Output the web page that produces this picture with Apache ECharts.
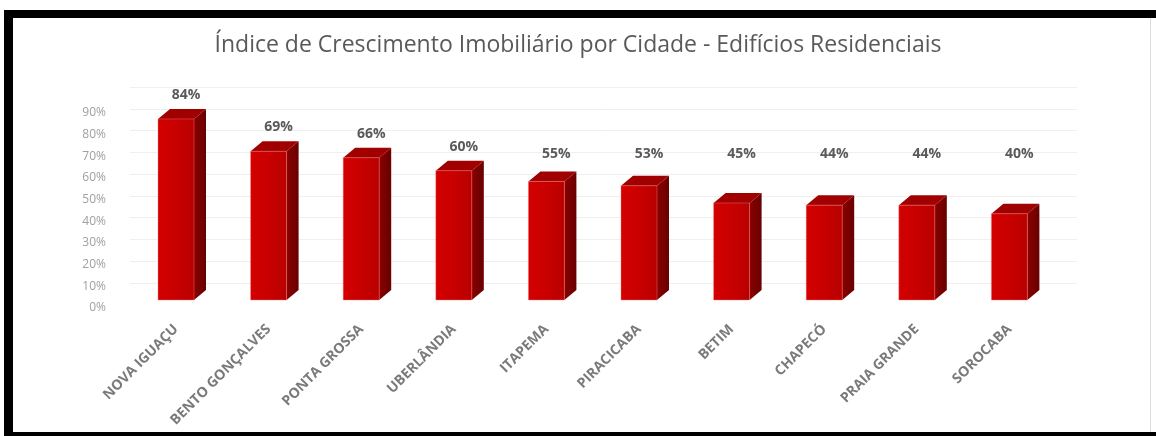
<!DOCTYPE html>
<html><head><meta charset="utf-8">
<script src="https://cdn.jsdelivr.net/npm/echarts@6/dist/echarts.min.js"></script>
<style>html,body{margin:0;padding:0;background:#fff}#c{width:1156px;height:436px}</style>
</head><body><div id="c"></div>
<script>
const titleText = 'Índice de Crescimento Imobiliário por Cidade - Edifícios Residenciais';
const categories = ['NOVA IGUAÇU','BENTO GONÇALVES','PONTA GROSSA','UBERLÂNDIA','ITAPEMA','PIRACICABA','BETIM','CHAPECÓ','PRAIA GRANDE','SOROCABA'];
const values = [84, 69, 66, 60, 55, 53, 45, 44, 44, 40];
const yTicks = [0, 10, 20, 30, 40, 50, 60, 70, 80, 90];

const chart = echarts.init(document.getElementById('c'), null, {renderer: 'canvas'});
const FONT = 'Open Sans';
const HALF = 18, DX = 12, DY = 10;

function renderBar(params, api) {
  const i = api.value(0), v = api.value(1);
  const top = api.coord([i, v]);
  const base = api.coord([i, 0]);
  const cx = top[0], ty = top[1], by = base[1];
  const xl = cx - HALF, xr = cx + HALF;
  const labelY = Math.min(ty - 24, 154);
  return {
    type: 'group',
    children: [
      { type: 'polygon', shape: { points: [[xr, ty], [xr + DX, ty - DY], [xr + DX, by - DY], [xr, by]] },
        style: { fill: { type: 'linear', x: 0, y: 0, x2: 1, y2: 0, colorStops: [{offset: 0, color: '#8a0000'}, {offset: 1, color: '#680000'}] } } },
      { type: 'polygon', shape: { points: [[xl, ty], [xl + DX, ty - DY], [xr + DX, ty - DY], [xr, ty]] },
        style: { fill: '#a00000' } },
      { type: 'rect', shape: { x: xl, y: ty, width: xr - xl, height: by - ty },
        style: { fill: { type: 'linear', x: 0, y: 0, x2: 1, y2: 0, colorStops: [{offset: 0, color: '#d40000'}, {offset: 0.5, color: '#c80000'}, {offset: 1, color: '#b80000'}] },
                 stroke: 'rgba(255,120,120,0.5)', lineWidth: 0.8 } },
      { type: 'text', x: cx + 10, y: labelY,
        style: { text: v + '%', fill: '#5a5a5a', font: 'bold 14px "' + FONT + '"', align: 'center', verticalAlign: 'middle' } }
    ]
  };
}

const option = {
  backgroundColor: '#ffffff',
  animation: false,
  title: {
    text: titleText, left: 'center', top: 29,
    textStyle: { color: '#595959', fontSize: 23, fontWeight: 'normal', fontFamily: FONT }
  },
  grid: [
    { left: 130, right: 79, top: 87, height: 196 },
    { left: 110, right: 79, top: 113, height: 195 },
    { left: 129.7, right: 100.3, top: 106, height: 194 }
  ],
  xAxis: [
    { gridIndex: 0, type: 'category', data: categories, show: false },
    { gridIndex: 1, type: 'category', data: categories, show: false },
    { gridIndex: 2, type: 'category', data: categories,
      axisLine: { show: false }, axisTick: { show: false },
      axisLabel: { rotate: 45, margin: 27, color: '#7a7a7a', fontSize: 14, fontWeight: 'bold', fontFamily: FONT, interval: 0 } }
  ],
  yAxis: [
    { gridIndex: 0, type: 'value', min: yTicks[0], max: yTicks[yTicks.length - 1], interval: 10,
      axisLabel: { show: false }, axisLine: { show: false }, axisTick: { show: false },
      splitLine: { lineStyle: { color: '#efefef', width: 1 } } },
    { gridIndex: 1, type: 'value', min: yTicks[0], max: yTicks[yTicks.length - 1], interval: 10,
      axisLine: { show: false }, axisTick: { show: false }, splitLine: { show: false },
      axisLabel: { formatter: '{value}%', color: '#a0a0a0', fontSize: 12, fontFamily: FONT, margin: 4 } },
    { gridIndex: 2, type: 'value', min: yTicks[0], max: yTicks[yTicks.length - 1], interval: 10, show: false }
  ],
  series: [
    { type: 'custom', xAxisIndex: 2, yAxisIndex: 2, renderItem: renderBar, clip: false,
      encode: { x: 0, y: 1 },
      data: values.map((v, i) => [i, v]) }
  ],
  graphic: [
    { type: 'rect', shape: { x: 4, y: 10, width: 1152, height: 8 }, style: { fill: '#000' }, z: 100 },
    { type: 'rect', shape: { x: 4, y: 10, width: 9, height: 426 }, style: { fill: '#000' }, z: 100 },
    { type: 'rect', shape: { x: 4, y: 432, width: 1152, height: 4 }, style: { fill: '#000' }, z: 100 },
    { type: 'rect', shape: { x: 1150, y: 18, width: 1, height: 414 }, style: { fill: '#dddddd' }, z: 100 }
  ]
};
chart.setOption(option);
</script></body></html>
